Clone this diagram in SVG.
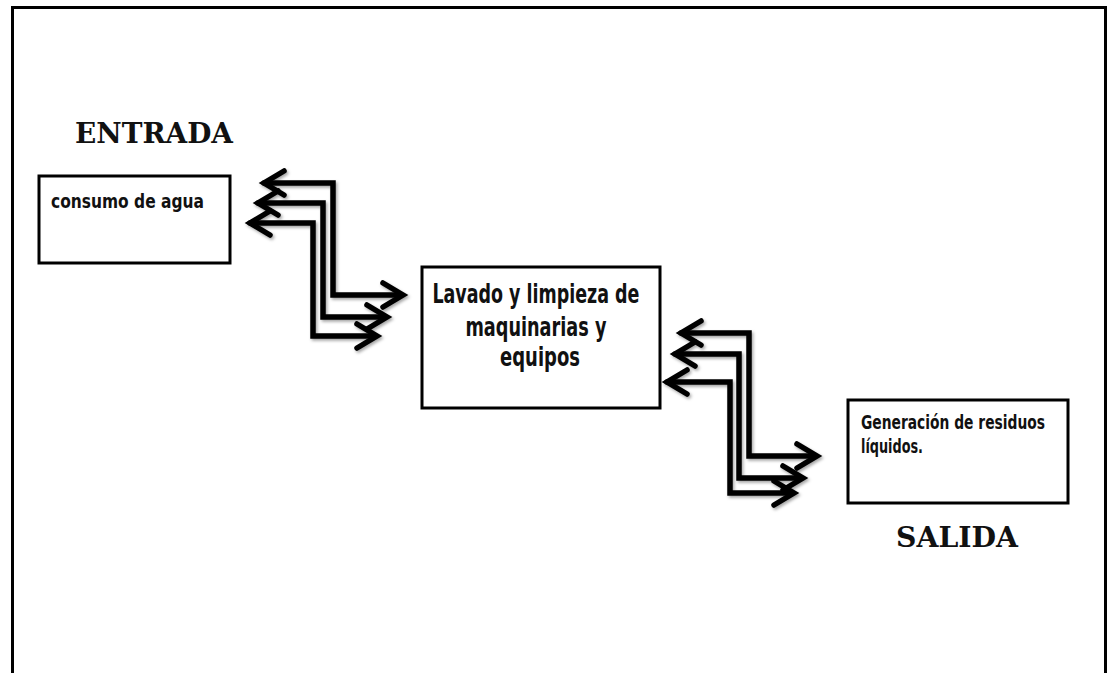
<svg xmlns="http://www.w3.org/2000/svg" width="1111" height="673" viewBox="0 0 1111 673">
<defs>
<filter id="sh" x="-10%" y="-10%" width="130%" height="130%">
<feDropShadow dx="1.5" dy="2" stdDeviation="1.5" flood-color="#000" flood-opacity="0.35"/>
</filter>
<style>
.box{fill:#fff;stroke:#000;stroke-width:3}
.arr{fill:none;stroke:#000;stroke-width:5.5;stroke-linejoin:miter;stroke-linecap:round}
.hdr{font-family:"DejaVu Serif","Liberation Serif",serif;font-weight:bold;font-size:27px;fill:#111}
.cond{font-family:"DejaVu Sans Condensed","DejaVu Sans","Liberation Sans",sans-serif;fill:#111}
</style>
</defs>
<rect width="1111" height="673" fill="#fff"/>
<path d="M12.5 680 V7.5 H1105.5 V680" fill="none" stroke="#000" stroke-width="3"/>

<g id="entrada-label">
<text class="hdr" x="154" y="143" text-anchor="middle" textLength="158" lengthAdjust="spacingAndGlyphs">ENTRADA</text>
</g>
<g id="consumo">
<rect class="box" x="39" y="176" width="191" height="87"/>
<text class="cond" x="51" y="208" font-size="20" font-weight="600" textLength="153" lengthAdjust="spacingAndGlyphs">consumo de agua</text>
</g>
<g id="lavado">
<rect class="box" x="422" y="267" width="238" height="141"/>
<text class="cond" font-size="26" font-weight="bold" text-anchor="middle">
<tspan x="540" y="303" textLength="207" lengthAdjust="spacingAndGlyphs">Lavado y limpieza de</tspan>
<tspan x="540" y="336" textLength="141" lengthAdjust="spacingAndGlyphs">maquinarias y</tspan>
<tspan x="540" y="366" textLength="80" lengthAdjust="spacingAndGlyphs">equipos</tspan>
</text>
</g>
<g id="residuos">
<rect class="box" x="848" y="400" width="220" height="103"/>
<text class="cond" font-size="20" font-weight="bold">
<tspan x="861" y="429" textLength="184" lengthAdjust="spacingAndGlyphs">Generación de residuos</tspan>
<tspan x="861" y="453" textLength="62" lengthAdjust="spacingAndGlyphs">líquidos.</tspan>
</text>
</g>
<g id="salida-label">
<text class="hdr" x="957" y="547" text-anchor="middle" textLength="122" lengthAdjust="spacingAndGlyphs">SALIDA</text>
</g>

<g id="connectors" filter="url(#sh)">
<g class="arr">
<path d="M264 183 H333 V295 H401"/>
<path d="M284 171 L264 183 L284 195 M383 283 L403 295 L383 307"/>
<path d="M258 203 H323 V317 H385"/>
<path d="M278 191 L258 203 L278 215 M367 305 L387 317 L367 329"/>
<path d="M250 223 H313 V336 H375"/>
<path d="M270 211 L250 223 L270 235 M357 324 L377 336 L357 348"/>
<path d="M681 333 H749 V456 H815"/>
<path d="M701 321 L681 333 L701 345 M797 444 L817 456 L797 468"/>
<path d="M675 354 H739 V478 H801"/>
<path d="M695 342 L675 354 L695 366 M783 466 L803 478 L783 490"/>
<path d="M667 382 H730 V493 H792"/>
<path d="M687 370 L667 382 L687 394 M774 481 L794 493 L774 505"/>
</g>
</g>
</svg>
